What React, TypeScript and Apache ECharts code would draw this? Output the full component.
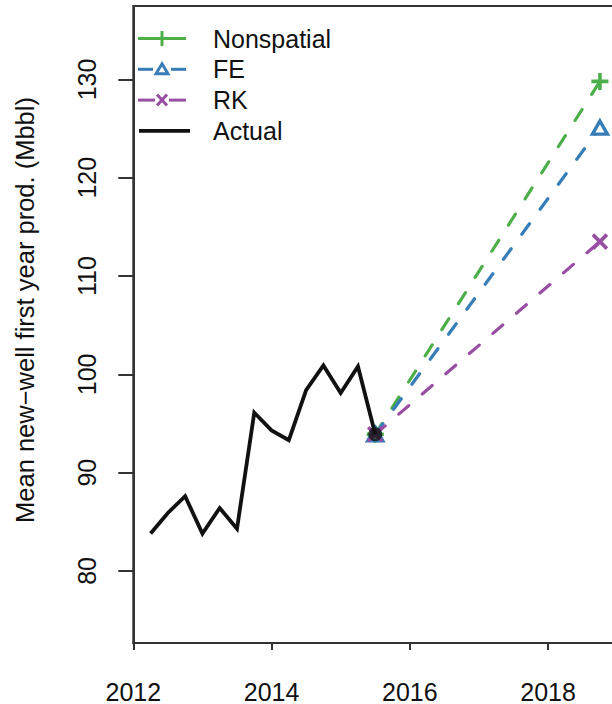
import React, { useEffect, useRef } from "react";
import * as echarts from "echarts";

// ---- data ----
const actualYears = [2012.25, 2012.5, 2012.75, 2013, 2013.25, 2013.5, 2013.75, 2014, 2014.25, 2014.5, 2014.75, 2015, 2015.25, 2015.5];
const actualValues = [83.8, 85.9, 87.6, 83.8, 86.4, 84.3, 96.1, 94.3, 93.3, 98.4, 100.9, 98.1, 100.8, 93.9];
const forecastYears = [2015.5, 2018.75];
const nonspatialValues = [93.9, 129.8];
const feValues = [93.9, 125.1];
const rkValues = [93.9, 113.5];
const xTickValues = [2012, 2014, 2016, 2018];
const yTickValues = [80, 90, 100, 110, 120, 130];
const seriesNames = ["Nonspatial", "FE", "RK", "Actual"];
const yTitle = "Mean new\u2212well first year prod. (Mbbl)";

const GREEN = "#4DAF4A";
const BLUE = "#377EB8";
const PURPLE = "#984EA3";
const BLACK = "#111111";
const AXIS = "#333333";
const FONT = "'Liberation Sans', Arial, Helvetica, sans-serif";

const zip = (xs: number[], ys: number[]) => xs.map((x, i) => [x, ys[i]]);

const PLUS = "path://M0,5L10,5M5,0L5,10";
const CROSS = "path://M0,0L10,10M0,10L10,0";
const TRI = "path://M5,0L10,8.66L0,8.66Z";

export default function App() {
  const ref = useRef<HTMLDivElement>(null);

  useEffect(() => {
    if (!ref.current) return;
    const chart = echarts.init(ref.current, undefined, { renderer: "svg" });

    const dashed = { width: 3.2, type: [13, 18] as any, cap: "round" as any };

    const legendColors = [GREEN, BLUE, PURPLE, BLACK];
    const legendGraphics: any[] = [];
    seriesNames.forEach((name, i) => {
      const y = 38.5 + i * 30.8;
      const c = legendColors[i];
      const ls = { stroke: c, lineWidth: i === 3 ? 3.8 : 3 };
      if (i === 0) {
        legendGraphics.push({ type: "line", shape: { x1: 138, y1: y, x2: 186, y2: y }, style: ls });
        legendGraphics.push({ type: "line", shape: { x1: 162, y1: y - 7.5, x2: 162, y2: y + 7.5 }, style: ls });
      } else if (i === 1) {
        legendGraphics.push({ type: "line", shape: { x1: 138, y1: y, x2: 153, y2: y }, style: ls });
        legendGraphics.push({ type: "line", shape: { x1: 171, y1: y, x2: 186, y2: y }, style: ls });
        legendGraphics.push({
          type: "polygon",
          shape: { points: [[162, y - 5.5], [168, y + 4.5], [156, y + 4.5]] },
          style: { stroke: c, lineWidth: 3, fill: "none" },
        });
      } else if (i === 2) {
        legendGraphics.push({ type: "line", shape: { x1: 138, y1: y, x2: 155, y2: y }, style: ls });
        legendGraphics.push({ type: "line", shape: { x1: 169, y1: y, x2: 186, y2: y }, style: ls });
        legendGraphics.push({ type: "line", shape: { x1: 157, y1: y - 5.5, x2: 167, y2: y + 5.5 }, style: ls });
        legendGraphics.push({ type: "line", shape: { x1: 157, y1: y + 5.5, x2: 167, y2: y - 5.5 }, style: ls });
      } else {
        legendGraphics.push({ type: "line", shape: { x1: 139, y1: y, x2: 190, y2: y }, style: ls });
      }
      legendGraphics.push({
        type: "text",
        x: 213,
        y,
        style: { text: name, font: `25px ${FONT}`, fill: BLACK, align: "left", verticalAlign: "middle" },
      });
    });

    chart.setOption({
      animation: false,
      backgroundColor: "#ffffff",
      grid: {
        left: 133.3,
        top: 6,
        bottom: 61,
        right: 22.8,
        show: true,
        borderColor: AXIS,
        borderWidth: 2,
        backgroundColor: "transparent",
      },
      xAxis: {
        type: "value",
        min: 2012,
        max: 2019,
        splitLine: { show: false },
        axisLine: { show: true, onZero: false, lineStyle: { color: AXIS, width: 2 } },
        axisTick: { show: true, length: 7, customValues: xTickValues, lineStyle: { color: AXIS, width: 2 } },
        axisLabel: {
          customValues: xTickValues,
          margin: 36,
          fontSize: 25,
          fontFamily: FONT,
          color: BLACK,
          formatter: (v: number) => String(v),
        },
      },
      yAxis: {
        type: "value",
        min: 72.67,
        max: 137.47,
        splitLine: { show: false },
        axisLine: { show: true, onZero: false, lineStyle: { color: AXIS, width: 2 } },
        axisTick: { show: true, length: 15, customValues: yTickValues, lineStyle: { color: AXIS, width: 2 } },
        axisLabel: {
          customValues: yTickValues,
          rotate: 90,
          margin: 34,
          fontSize: 25,
          fontFamily: FONT,
          color: BLACK,
          formatter: (v: number) => String(v),
        },
      },
      graphic: [
        {
          type: "text",
          x: 25,
          y: 310,
          rotation: Math.PI / 2,
          style: { text: yTitle, font: `25.5px ${FONT}`, fill: BLACK, align: "center", verticalAlign: "middle" },
        },
        ...legendGraphics,
      ],
      series: [
        {
          name: "Nonspatial",
          type: "line",
          data: zip(forecastYears, nonspatialValues),
          color: GREEN,
          lineStyle: { color: GREEN, ...dashed },
          symbol: PLUS,
          symbolSize: 17,
          showAllSymbol: true,
          itemStyle: { color: GREEN, borderColor: GREEN, borderWidth: 3.6 },
          z: 2,
        },
        {
          name: "FE",
          type: "line",
          data: zip(forecastYears, feValues),
          color: BLUE,
          lineStyle: { color: BLUE, ...dashed },
          symbol: TRI,
          symbolSize: [15, 13],
          showAllSymbol: true,
          itemStyle: { color: "#ffffff", borderColor: BLUE, borderWidth: 3.4 },
          z: 2,
        },
        {
          name: "RK",
          type: "line",
          data: zip(forecastYears, rkValues),
          color: PURPLE,
          lineStyle: { color: PURPLE, ...dashed },
          symbol: CROSS,
          symbolSize: 14,
          showAllSymbol: true,
          itemStyle: { color: PURPLE, borderColor: PURPLE, borderWidth: 3.6 },
          z: 2,
        },
        {
          name: "Actual",
          type: "line",
          data: zip(actualYears, actualValues),
          color: BLACK,
          lineStyle: { color: BLACK, width: 3.8, join: "miter" as any },
          symbol: "none",
          z: 3,
        },
        {
          name: "Actual end",
          type: "scatter",
          data: [[actualYears[actualYears.length - 1], actualValues[actualValues.length - 1]]],
          symbol: "circle",
          symbolSize: 14,
          itemStyle: { color: BLACK },
          z: 10,
        },
      ],
    });

    return () => chart.dispose();
  }, []);

  return (
    <div style={{ position: "absolute", left: 0, top: 0, width: 612, height: 704, overflow: "hidden", background: "#fff" }}>
      <div ref={ref} style={{ width: 640, height: 704 }} />
    </div>
  );
}
